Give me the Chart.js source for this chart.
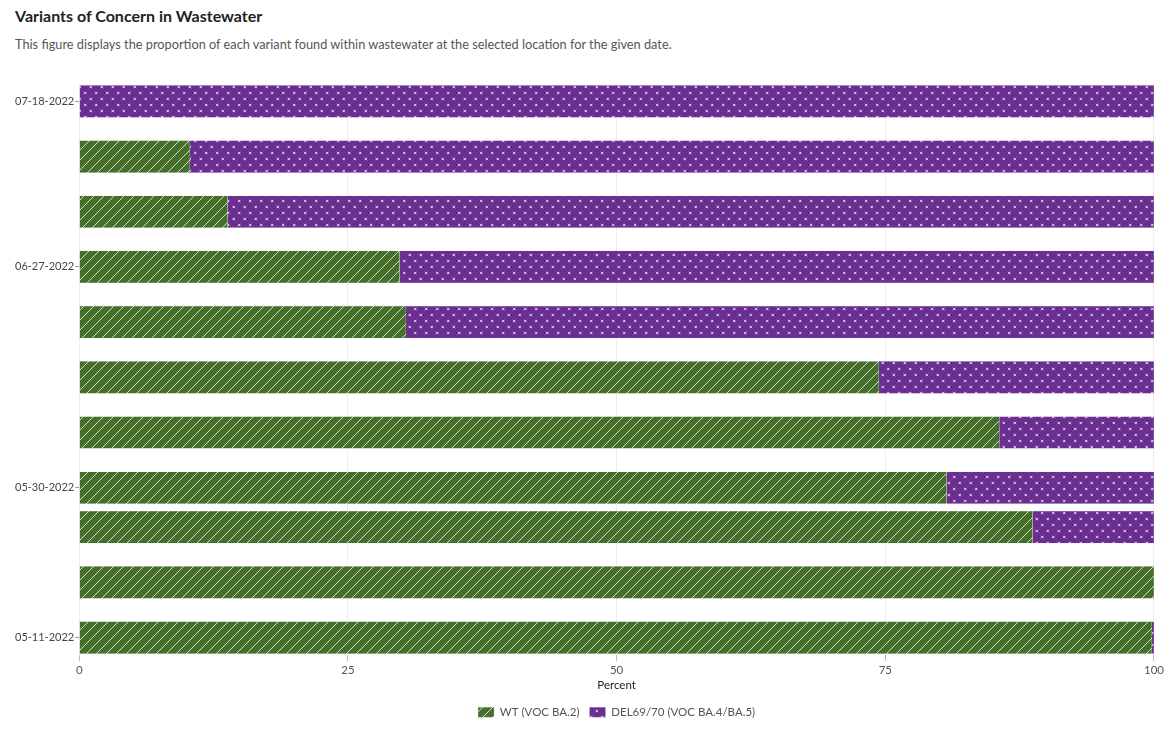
<!DOCTYPE html>
<html>
<head>
<meta charset="utf-8">
<script src="https://cdn.jsdelivr.net/npm/chart.js@4"></script>
<style>
  body { margin: 0; background: #fff; font-family: Lato, "Open Sans", sans-serif; }
  h1 { position: absolute; left: 15px; top: 6px; margin: 0; font-size: 16px; font-weight: 700; color: #222; }
  p.sub { position: absolute; left: 15px; top: 36px; margin: 0; font-size: 12.75px; color: #555; }
  #wrap { position: absolute; left: 0; top: 60px; width: 1166px; height: 674px; }
</style>
</head>
<body>
<h1>Variants of Concern in Wastewater</h1>
<p class="sub">This figure displays the proportion of each variant found within wastewater at the selected location for the given date.</p>
<div id="wrap"><canvas id="myChart"></canvas></div>
<script>
const sampleDates = ['05-11-2022', '05-18-2022', '05-25-2022', '05-30-2022', '06-06-2022', '06-13-2022',
  '06-20-2022', '06-27-2022', '07-04-2022', '07-11-2022', '07-18-2022'];
const wtValues = [99.8, 100, 88.7, 80.7, 85.6, 74.4, 30.4, 29.8, 13.8, 10.3, 0];
const delValues = [0.2, 0, 11.3, 19.3, 14.4, 25.6, 69.6, 70.2, 86.2, 89.7, 100];
const tickDates = ['05-11-2022', '05-30-2022', '06-27-2022', '07-18-2022'];
const percentTicks = [0, 25, 50, 75, 100];

// days since the first sample, so the dates sit on a linear axis
const dayOf = (str) => {
  const [m, d, y] = str.split('-').map(Number);
  return Math.round((Date.UTC(y, m - 1, d) - Date.UTC(2022, 4, 11)) / 86400000);
};

function stripes () {
  const c = document.createElement('canvas');
  c.width = 10; c.height = 10;
  const g = c.getContext('2d');
  g.fillStyle = '#456f2a';
  g.fillRect(0, 0, 10, 10);
  g.strokeStyle = 'rgba(255,255,255,0.75)';
  g.lineWidth = 1;
  g.beginPath();
  g.moveTo(-1, 11); g.lineTo(11, -1);
  g.moveTo(-6, 6); g.lineTo(6, -6);
  g.moveTo(4, 16); g.lineTo(16, 4);
  g.stroke();
  return g.createPattern(c, 'repeat');
}

function crosses () {
  const c = document.createElement('canvas');
  c.width = 11; c.height = 12;
  const g = c.getContext('2d');
  g.fillStyle = '#6a2d90';
  g.fillRect(0, 0, 11, 12);
  g.strokeStyle = 'rgba(255,255,255,0.9)';
  g.lineWidth = 0.9;
  const mark = (x, y) => {
    g.moveTo(x - 1.2, y - 1.2); g.lineTo(x + 1.2, y + 1.2);
    g.moveTo(x + 1.2, y - 1.2); g.lineTo(x - 1.2, y + 1.2);
  };
  g.beginPath();
  mark(2.75, 3);
  mark(8.25, 9);
  g.stroke();
  return g.createPattern(c, 'repeat');
}

const ctx = document.getElementById('myChart').getContext('2d');
const chart = new Chart(ctx, {
  type: 'bar',
  data: {
    datasets: [{
      label: 'WT (VOC BA.2)',
      data: sampleDates.map((d, i) => ({ x: wtValues[i], y: dayOf(d) })),
      backgroundColor: stripes(),
      borderColor: 'rgba(200,215,190,0.6)',
      borderWidth: 0.5,
      barThickness: 32,
    }, {
      label: 'DEL69/70 (VOC BA.4/BA.5)',
      data: sampleDates.map((d, i) => ({ x: delValues[i], y: dayOf(d) })),
      backgroundColor: crosses(),
      borderColor: 'rgba(210,190,225,0.6)',
      borderWidth: 0.5,
      barThickness: 32,
    }],
  },
  options: {
    indexAxis: 'y',
    responsive: true,
    maintainAspectRatio: false,
    animation: false,
    layout: { padding: { left: 14, right: 4, top: 24, bottom: 6 } },
    scales: {
      x: {
        type: 'linear',
        stacked: true,
        min: 0,
        max: 100,
        afterBuildTicks: (scale) => { scale.ticks = percentTicks.map(v => ({ value: v })); },
        grid: { color: '#eeeeee', tickColor: '#bbbbbb', tickLength: 6 },
        border: { display: false },
        ticks: { color: '#555', font: { size: 11.5, family: 'Lato' }, padding: 2 },
        title: { display: true, text: 'Percent', color: '#222', font: { size: 11.5, family: 'Lato' }, padding: { top: 0 } },
      },
      y: {
        type: 'linear',
        stacked: true,
        offset: false,
        min: -2.2,
        max: 70.2,
        afterBuildTicks: (scale) => { scale.ticks = tickDates.map(d => ({ value: dayOf(d) })); },
        grid: { offset: false, drawOnChartArea: false, tickColor: '#999', tickLength: 4 },
        border: { display: false },
        ticks: {
          color: '#444',
          font: { size: 11, family: 'Lato' },
          padding: 1,
          callback: (v) => tickDates.find(d => dayOf(d) === v) || '',
        },
      },
    },
    plugins: {
      legend: {
        position: 'bottom',
        fullSize: false,
        labels: { boxWidth: 16, boxHeight: 10, color: '#555', font: { size: 11.5, family: 'Lato' }, padding: 10 },
      },
      tooltip: { enabled: false },
    },
  },
});
</script>
</body>
</html>
